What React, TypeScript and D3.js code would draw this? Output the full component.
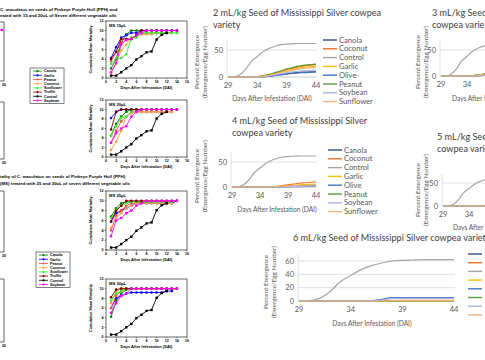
import React from "react";
import * as d3 from "d3";

// ---------- Left collage: cumulative mean mortality (Mississippi Silver) ----------
const oils = ["Canola", "Garlic", "Peanut", "Coconut", "Sunflower", "Truffle", "Control", "Soybean"];
const oilColors = ["#008000", "#0000ff", "#ff4d4d", "#ffa040", "#33ee33", "#800000", "#000000", "#ff00ff"];
const dai = [1, 2, 3, 4, 5, 6, 7, 8, 9, 10, 11, 12, 13, 14];
const xTicksMort = [0, 2, 4, 6, 8, 10, 12, 14, 16];
const yTicksMort = [0, 2, 4, 6, 8, 10, 12];
const controlMort = [0.5, 0.5, 1.2, 2.0, 2.7, 3.9, 4.6, 5.4, 5.6, 8.1, 9.1, 9.5];

// order: Canola, Garlic, Peanut, Coconut, Sunflower, Truffle, Soybean
const ms15 = [
  [2.0, 4.0, 7.5, 9.2, 10, 10, 10, 10, 10, 10, 10, 10, 10, 10],
  [4.2, 6.5, 8.5, 9.0, 9.5, 9.5, 10, 10, 10, 10, 10, 10, 10, 10],
  [3.5, 5.5, 7.5, 8.0, 8.2, 9.0, 9.2, 9.5, 9.5, 9.5, 9.5, 9.5, 9.5],
  [1.0, 3.0, 5.8, 7.0, 8.5, 9.0, 9.2, 9.2, 9.2, 9.5, 9.5, 9.5, 9.5],
  [3.0, 4.2, 4.2, 5.0, 8.5, 8.5, 9.5, 9.5, 9.5, 9.5, 9.5, 9.5, 9.5, 9.5],
  [4.0, 5.5, 8.2, 8.2, 8.2, 9.0, 10, 10, 10, 10, 10, 10, 10, 10],
  [1.2, 3.2, 7.0, 8.0, 8.2, 9.0, 9.5, 10, 10, 10, 10, 10, 10, 10],
];
const ms20 = [
  [4.5, 7.0, 8.5, 9.5, 10, 10, 10, 10, 10, 10, 10, 10, 10, 10],
  [8.2, 9.5, 10, 10, 10, 10, 10, 10, 10, 10, 10, 10, 10, 10],
  [3.0, 5.5, 7.5, 8.5, 9.5, 9.5, 9.5, 9.5, 9.5, 9.5, 9.5, 9.5, 9.5],
  [1.5, 3.2, 5.5, 8.5, 9.2, 9.5, 9.5, 9.5, 9.5, 9.5, 9.5, 9.5, 9.5],
  [4.5, 6.5, 8.2, 8.5, 9.5, 10, 10, 10, 10, 10, 10, 10, 10, 10],
  [5.8, 9.5, 10, 10, 10, 10, 10, 10, 10, 10, 10, 10, 10, 10],
  [3.0, 5.0, 6.0, 6.5, 8.5, 9.5, 10, 10, 10, 10, 10, 10, 10, 10],
];
const ms25 = [
  [6.8, 8.5, 9.5, 9.8, 9.8, 9.8, 9.8, 9.8, 9.8, 9.8, 9.8, 9.8, 9.8],
  [5.8, 7.5, 8.0, 8.5, 9.0, 9.5, 9.5, 9.5, 9.5, 9.5, 9.5, 9.5, 9.5, 10],
  [4.0, 7.0, 8.0, 9.0, 9.5, 9.5, 9.8, 9.8, 9.8, 9.8, 9.8, 9.8, 9.8],
  [4.5, 6.5, 7.5, 8.5, 9.0, 9.5, 9.5, 9.5, 9.5, 9.5, 9.5, 9.5, 9.5],
  [6.5, 8.2, 9.0, 9.5, 9.8, 9.8, 9.8, 9.8, 9.8, 9.8, 9.8, 9.8, 9.8],
  [5.8, 8.0, 9.0, 10, 10, 10, 10, 10, 10, 10, 10, 10, 10, 10],
  [2.8, 6.0, 6.5, 7.5, 8.0, 9.0, 9.5, 10, 10, 10, 10, 10, 10, 10],
];
const ms30 = [
  [4.2, 7.5, 9.0, 9.8, 10, 10, 10, 10, 10, 10, 10, 10, 10, 10],
  [6.0, 8.0, 8.5, 9.0, 9.2, 9.2, 9.2, 9.2, 9.2, 9.2, 9.2, 9.5, 9.5],
  [6.0, 8.5, 9.5, 10, 10, 10, 10, 10, 10, 10, 10, 10, 10, 10],
  [7.0, 9.5, 10, 10, 10, 10, 10, 10, 10, 10, 10, 10, 10, 10],
  [7.5, 9.0, 9.5, 10, 10, 10, 10, 10, 10, 10, 10, 10, 10, 10],
  [8.2, 9.8, 10, 10, 10, 10, 10, 10, 10, 10, 10, 10, 10, 10],
  [5.0, 7.0, 8.5, 9.0, 10, 10, 10, 10, 10, 10, 10, 10, 10, 10],
];

// ---------- Right collage: percent emergence ----------
const emDays = [29, 30, 31, 32, 33, 34, 35, 36, 37, 38, 39, 40, 41, 42, 43, 44];
const emXTicks = [29, 34, 39, 44];
const emOils = ["Canola", "Coconut", "Control", "Garlic", "Olive", "Peanut", "Soybean", "Sunflower"];
const emColors = ["#2f4d8a", "#e8702a", "#a5a5a5", "#ffc000", "#4472c4", "#5a9a3a", "#a8b8e0", "#f4b183"];
const controlEm = [0, 0.5, 4, 14, 29, 38, 47, 53, 57, 60, 61, 61.5, 62, 62, 62, 62];

// order: Canola, Coconut, Garlic, Olive, Peanut, Soybean, Sunflower
const em2 = [
  [0, 0, 0, 0, 0, 0, 0.5, 1.5, 3, 4.5, 6, 7.5, 8.5, 9, 9.5, 10],
  [0, 0, 0, 0, 0, 0.5, 2, 4, 7, 10, 13, 16, 18.5, 20.5, 22, 23],
  [0, 0, 0, 0, 0, 0.5, 2, 4, 6.5, 9, 12, 14, 16.5, 18, 19, 20],
  [0, 0, 0, 0, 0, 0, 0.3, 1, 2.5, 4, 5.5, 6.5, 7.5, 8, 8.5, 9],
  [0, 0, 0, 0, 0, 0.5, 2.5, 5, 8, 11, 15, 17.5, 20, 22, 23, 24],
  [0, 0, 0, 0, 0, 0, 0.5, 2, 4, 6, 8, 9.5, 11, 12, 12.5, 13],
  [0, 0, 0, 0, 0, 0.3, 1.5, 3, 5.5, 8, 10.5, 12.5, 14.5, 16, 17, 18],
];
const em3 = [
  [0, 0, 0, 0, 0, 0, 0, 0.5, 1, 2, 3, 4, 5, 5.5, 6, 6.5],
  [0, 0, 0, 0, 0, 0, 0.5, 1.5, 3, 5, 7, 9, 11, 12, 13, 14],
  [0, 0, 0, 0, 0, 0, 0.5, 1, 2.5, 4, 5.5, 7, 8, 9, 9.5, 10],
  [0, 0, 0, 0, 0, 0, 0, 0.5, 1, 2, 3, 3.5, 4, 4.5, 5, 5],
  [0, 0, 0, 0, 0, 0, 0.5, 1.5, 3, 5, 7, 8.5, 10, 11, 12, 12.5],
  [0, 0, 0, 0, 0, 0, 0, 0.5, 1.5, 2.5, 3.5, 4.5, 5.5, 6, 6.5, 7],
  [0, 0, 0, 0, 0, 0, 0.3, 1, 2, 3.5, 5, 6, 7, 8, 8.5, 9],
];
const em4 = [
  [0, 0, 0, 0, 0, 0, 0, 0, 0.3, 0.8, 1.2, 1.6, 2, 2.3, 2.5, 2.7],
  [0, 0, 0, 0, 0, 0, 0, 0.5, 1.5, 3, 4.5, 6, 7.5, 8.5, 9.5, 10.5],
  [0, 0, 0, 0, 0, 0, 0, 0, 0.5, 1.5, 2.5, 3.5, 4.5, 5, 5.5, 6],
  [0, 0, 0, 0, 0, 0, 0, 0, 0, 0, 0.3, 0.6, 0.8, 1, 1.2, 1.3],
  [0, 0, 0, 0, 0, 0, 0, 0, 0.5, 1, 1.5, 2, 2.5, 3, 3.2, 3.5],
  [0, 0, 0, 0, 0, 0, 0, 0, 0, 0.3, 0.6, 1, 1.3, 1.5, 1.6, 1.7],
  [0, 0, 0, 0, 0, 0, 0, 0.3, 0.8, 1.5, 2.2, 3, 3.5, 4, 4.3, 4.5],
];
const em5 = [
  [0, 0, 0, 0, 0, 0, 0, 0, 0, 0.3, 0.6, 1, 1.2, 1.4, 1.5, 1.6],
  [0, 0, 0, 0, 0, 0, 0, 0, 0.5, 1.5, 2.5, 3.5, 4.5, 5, 5.5, 6],
  [0, 0, 0, 0, 0, 0, 0, 0, 0.3, 1, 1.5, 2, 2.5, 3, 3.2, 3.5],
  [0, 0, 0, 0, 0, 0, 0, 0, 0, 0, 0.3, 0.5, 0.7, 0.8, 0.9, 1],
  [0, 0, 0, 0, 0, 0, 0, 0, 0.3, 0.8, 1.2, 1.6, 2, 2.3, 2.5, 2.7],
  [0, 0, 0, 0, 0, 0, 0, 0, 0, 0.3, 0.5, 0.8, 1, 1.1, 1.2, 1.3],
  [0, 0, 0, 0, 0, 0, 0, 0, 0.5, 1, 1.5, 2, 2.5, 2.8, 3, 3.2],
];
const em6 = [
  [0, 0, 0, 0, 0, 0, 0, 0, 0, 0.5, 0.5, 0.5, 0.5, 0.5, 0.5, 0.5],
  [0, 0, 0, 0, 0, 0, 0, 0, 0, 0.5, 1, 1, 1, 1, 1, 1],
  [0, 0, 0, 0, 0, 0, 0, 0, 0, 0, 0.3, 0.3, 0.3, 0.3, 0.3, 0.3],
  [0, 0, 0, 0, 0, 0, 0, 0.5, 2.5, 5, 5, 5, 5, 5, 5, 5],
  [0, 0, 0, 0, 0, 0, 0, 0, 0, 0, 0, 0, 0, 0, 0, 0],
  [0, 0, 0, 0, 0, 0, 0, 0.3, 1.5, 3.5, 4, 4, 4, 4, 4, 4],
  [0, 0, 0, 0, 0, 0, 0, 0, 0, 0.3, 0.5, 0.5, 0.5, 0.5, 0.5, 0.5],
];

const SP_FONT = "'Liberation Sans', Arial, sans-serif";
const XL_FONT = "Lato, 'Open Sans', sans-serif";
const XL_TEXT = "#595959";

function withControlMort(series: number[][]) {
  return [series[0], series[1], series[2], series[3], series[4], series[5], controlMort, series[6]];
}
function withControlEm(series: number[][]) {
  return [series[0], series[1], controlEm, series[2], series[3], series[4], series[5], series[6]];
}

function SigmaChart({ top, bottom, label, series }: { top: number; bottom: number; label: string; series: number[][] }) {
  const x = d3.scaleLinear().domain([0, 16]).range([106, 187]);
  const y = d3.scaleLinear().domain([0, 12]).range([bottom, top]);
  const all = withControlMort(series);
  const line = d3.line<number>().x((_, i) => x(dai[i])).y((v) => y(v));
  return (
    <g fontFamily={SP_FONT} fontWeight="bold">
      <rect x={x(0)} y={top} width={x(16) - x(0)} height={bottom - top} fill="none" stroke="#000" strokeWidth={0.6} />
      {xTicksMort.map((t) => (
        <g key={"x" + t}>
          <line x1={x(t)} x2={x(t)} y1={bottom} y2={bottom + 1.3} stroke="#000" strokeWidth={0.5} />
          <text x={x(t)} y={bottom + 5} fontSize={3.6} textAnchor="middle">{t}</text>
        </g>
      ))}
      {yTicksMort.map((t) => (
        <g key={"y" + t}>
          <line x1={x(0) - 1.3} x2={x(0)} y1={y(t)} y2={y(t)} stroke="#000" strokeWidth={0.5} />
          <text x={x(0) - 2.5} y={y(t) + 1.3} fontSize={3.6} textAnchor="end">{t}</text>
        </g>
      ))}
      <text x={(x(0) + x(16)) / 2} y={bottom + 10.5} fontSize={4} textAnchor="middle">Days After Infestation (DAI)</text>
      <text transform={`translate(92,${(top + bottom) / 2}) rotate(-90)`} fontSize={3.8} textAnchor="middle">Cumulative Mean Mortality</text>
      <text x={x(0) + 3} y={top + 5.5} fontSize={4.2}>{label}</text>
      {all.map((s, k) => (
        <g key={oils[k]}>
          <path d={line(s) || ""} fill="none" stroke={oilColors[k]} strokeWidth={0.9} />
          {s.map((v, i) =>
            oils[k] === "Control" ? (
              <rect key={i} x={x(dai[i]) - 1.2} y={y(v) - 1.2} width={2.4} height={2.4} fill={oilColors[k]} />
            ) : (
              <circle key={i} cx={x(dai[i])} cy={y(v)} r={1.3} fill={oilColors[k]} />
            )
          )}
        </g>
      ))}
    </g>
  );
}

function SigmaLegend({ x0, y0 }: { x0: number; y0: number }) {
  const dy = 4.2;
  return (
    <g fontFamily={SP_FONT} fontWeight="bold">
      <rect x={x0} y={y0} width={34} height={dy * 8 + 2} fill="#fff" stroke="#000" strokeWidth={0.5} />
      {oils.map((o, i) => {
        const yy = y0 + 3.1 + i * dy;
        return (
          <g key={o}>
            <line x1={x0 + 3} x2={x0 + 12} y1={yy} y2={yy} stroke={oilColors[i]} strokeWidth={0.8} />
            <circle cx={x0 + 7.5} cy={yy} r={1.1} fill={oilColors[i]} />
            <text x={x0 + 14} y={yy + 1.3} fontSize={3.7}>{o}</text>
          </g>
        );
      })}
    </g>
  );
}

function PartialFrame({ top, bottom }: { top: number; bottom: number }) {
  return (
    <g fontFamily={SP_FONT} fontWeight="bold">
      <polyline points={`0,${top} 4,${top} 4,${bottom} 0,${bottom}`} fill="none" stroke="#000" strokeWidth={0.6} />
      <text x={4} y={bottom + 5} fontSize={3.6} textAnchor="middle">20</text>
    </g>
  );
}

type XLProps = {
  xr: [number, number];
  y0: number;
  pxPerUnit: number;
  yTicks: number[];
  titleLines: string[];
  titleX: number;
  titleY: number;
  ylabX: number;
  ylabY: number;
  xlabX: number;
  xlabAnchor?: string;
  xlabY: number;
  legendX: number;
  legendY: number;
  legendDy: number;
  legendText: boolean;
  showLegend: boolean;
  series: number[][];
  gridRight?: number;
};

function XLChart(p: XLProps) {
  const x = d3.scaleLinear().domain([29, 44]).range(p.xr);
  const y = d3.scaleLinear().domain([0, 70]).range([p.y0, p.y0 - 70 * p.pxPerUnit]);
  const all = withControlEm(p.series);
  const line = d3
    .line<number>()
    .x((_, i) => x(emDays[i]))
    .y((v) => y(v))
    .curve(d3.curveMonotoneX);
  const gr = p.gridRight ?? x(44) + 1;
  return (
    <g fontFamily={XL_FONT}>
      {p.titleLines.map((t, i) => (
        <text key={i} x={p.titleX} y={p.titleY + i * 11.5} fontSize={9.1} fill="#404040">{t}</text>
      ))}
      <line x1={x(29) - 1} x2={x(29) - 1} y1={y(70)} y2={y(0)} stroke="#d9d9d9" strokeWidth={0.8} />
      {p.yTicks.map((t) => (
        <g key={t}>
          <line x1={x(29) - 1} x2={gr} y1={y(t)} y2={y(t)} stroke={t === 0 ? "#bfbfbf" : "#d9d9d9"} strokeWidth={0.8} />
          <text x={x(29) - 5} y={y(t) + 2.8} fontSize={7.5} textAnchor="end" fill={XL_TEXT}>{t}</text>
        </g>
      ))}
      {emXTicks.map((t) => (
        <text key={t} x={x(t)} y={p.y0 + 10.5} fontSize={7.5} textAnchor="middle" fill={XL_TEXT}>{t}</text>
      ))}
      <text x={p.xlabX} y={p.xlabY + 2.5} fontSize={6.6} textAnchor={p.xlabAnchor ?? "middle"} fill={XL_TEXT}>Days After Infestation (DAI)</text>
      <text transform={`translate(${p.ylabX},${p.ylabY}) rotate(-90)`} fontSize={6.4} textAnchor="middle" fill={XL_TEXT}>Percent Emergence</text>
      <text transform={`translate(${p.ylabX + 7.5},${p.ylabY}) rotate(-90)`} fontSize={6.4} textAnchor="middle" fill={XL_TEXT}>(Emergence/Egg Number)</text>
      {all.map((s, k) => (
        <path key={emOils[k]} d={line(s) || ""} fill="none" stroke={emColors[k]} strokeWidth={1.2} />
      ))}
      {p.showLegend &&
        emOils.map((o, i) => {
          const yy = p.legendY + i * p.legendDy;
          return (
            <g key={o}>
              <line x1={p.legendX} x2={p.legendX + 14} y1={yy} y2={yy} stroke={emColors[i]} strokeWidth={1.4} />
              {p.legendText && (
                <text x={p.legendX + 16} y={yy + 2.6} fontSize={7.6} fill={XL_TEXT}>{o}</text>
              )}
            </g>
          );
        })}
    </g>
  );
}

export default function App() {
  return (
    <svg width={485} height={360} viewBox="0 0 485 360" style={{ position: "absolute", left: 0, top: 0, background: "#fff" }}>
      <rect width={485} height={360} fill="#fff" />
      {/* Left collage */}
      <g fontFamily={SP_FONT} fontWeight="bold" fontSize={4.4}>
        <text x={0} y={11}>C. maculatus on seeds of Pinkeye Purple Hull (PPH) and</text>
        <text x={0} y={17}>eated with 15 and 20uL of Seven different vegetable oils</text>
        <text x={0} y={178}>tality of C. maculatus on seeds of Pinkeye Purple Hull (PPH)</text>
        <text x={0} y={184.5}>(MS) treated with 25 and 30uL of seven different vegetable oils</text>
      </g>
      <line x1={0} x2={3} y1={30} y2={30} stroke="#ff00ff" strokeWidth={0.9} />
      <circle cx={2} cy={30} r={1.3} fill="#ff00ff" />
      <PartialFrame top={22} bottom={81} />
      <PartialFrame top={102} bottom={159} />
      <PartialFrame top={191} bottom={252} />
      <PartialFrame top={279} bottom={342} />
      <SigmaLegend x0={30} y0={68} />
      <SigmaLegend x0={36} y0={252} />
      <SigmaChart top={21} bottom={78} label="MS 15µL" series={ms15} />
      <SigmaChart top={100} bottom={157} label="MS 20µL" series={ms20} />
      <SigmaChart top={191} bottom={250} label="MS 25µL" series={ms25} />
      <SigmaChart top={279} bottom={337} label="MS 30µL" series={ms30} />

      {/* Right collage */}
      <XLChart xr={[228, 316]} y0={77} pxPerUnit={0.54} yTicks={[0, 50]}
        titleLines={["2 mL/kg Seed of Mississippi Silver cowpea", "variety"]} titleX={213} titleY={16}
        ylabX={199} ylabY={62} xlabX={272} xlabY={98} legendX={323} legendY={40} legendDy={8.8}
        showLegend={true} legendText={true} series={em2} />
      <XLChart xr={[441, 519]} y0={76} pxPerUnit={0.52} yTicks={[0, 50]} gridRight={486}
        titleLines={["3 mL/kg Seed of Mississippi Silver", "cowpea variety"]} titleX={432} titleY={16}
        ylabX={420} ylabY={62} xlabX={452} xlabAnchor="start" xlabY={98} legendX={530} legendY={40} legendDy={8.8}
        showLegend={false} legendText={false} series={em3} />
      <XLChart xr={[232, 316]} y0={187} pxPerUnit={0.5} yTicks={[0, 50]}
        titleLines={["4 mL/kg Seed of Mississippi Silver", "cowpea variety"]} titleX={232} titleY={124}
        ylabX={199} ylabY={176} xlabX={277} xlabY={209} legendX={328} legendY={150} legendDy={8.8}
        showLegend={true} legendText={true} series={em4} />
      <XLChart xr={[443, 521]} y0={206} pxPerUnit={0.46} yTicks={[0, 50]} gridRight={486}
        titleLines={["5 mL/kg Seed of Mississippi Silver", "cowpea variety"]} titleX={437} titleY={140}
        ylabX={420} ylabY={190} xlabX={453} xlabAnchor="start" xlabY={227} legendX={530} legendY={170} legendDy={8.8}
        showLegend={false} legendText={false} series={em5} />
      <XLChart xr={[299, 454]} y0={301} pxPerUnit={0.667} yTicks={[0, 20, 40, 60]}
        titleLines={["6 mL/kg Seed of Mississippi Silver  cowpea variety"]} titleX={293} titleY={241}
        ylabX={268} ylabY={282} xlabX={372} xlabY={323} legendX={468} legendY={254} legendDy={8.7}
        showLegend={true} legendText={false} series={em6} />
    </svg>
  );
}
